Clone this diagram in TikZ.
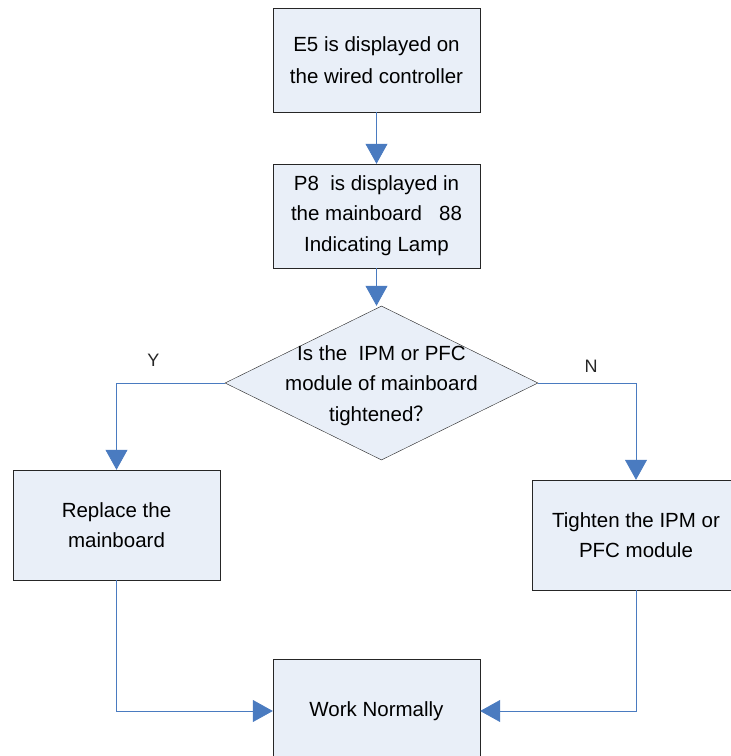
\documentclass[tikz,border=0pt]{standalone}
\usepackage{fontspec}
\setmainfont{Liberation Sans}
\newfontfamily\cjk{Noto Sans CJK SC}
\usetikzlibrary{arrows.meta, positioning, shapes.geometric}
\definecolor{boxfill}{HTML}{E9EFF8}
\definecolor{linkblue}{HTML}{4A7BC0}

\begin{document}
\begin{tikzpicture}[x=1pt, y=-1pt, font=\fontsize{20.5}{30}\selectfont,
    box/.style={draw=black!85, fill=boxfill, minimum width=207pt, minimum height=104pt, align=center, inner sep=2pt},
    decision/.style={diamond, draw=black!85, fill=boxfill, minimum width=313pt, minimum height=154pt, inner sep=0pt},
    flow/.style={draw=linkblue, line width=0.8pt, -{Triangle[width=22pt,length=20pt]}},
    yn/.style={font=\fontsize{18}{20}\selectfont, text=black!85}]
  \useasboundingbox (0,0) rectangle (731,756);
  \node[box] (shown) at (376.5,60) {E5 is displayed on\\[2pt]the wired controller};
  \node[box] (lamp) at (376.5,216) {P8\ \ is displayed in\\the mainboard\ \ \ 88\\[1pt]Indicating Lamp};
  \node[decision, label={[align=center, yshift=-3pt]center:Is the\ \ IPM or PFC\\module of mainboard\\[1pt]tightened{\cjk ？}}] (check) at (381.5,383) {};
  \node[box, minimum height=110pt] (replace) at (116.5,525) {Replace the\\mainboard};
  \node[box, minimum width=208pt, minimum height=110pt] (tighten) at (636,535) {Tighten the IPM or\\PFC module};
  \node[box] (normal) at (376.5,711) {Work Normally};
  \draw[flow] (shown) -- (lamp);
  \draw[flow] (lamp.south) -- (lamp.south |- check.north);
  \draw[flow] (check.west) -| (replace.north) node[pos=0.33, above=13pt, yn] {Y};
  \draw[flow] (check.east) -| (tighten.north) node[pos=0.27, above=7pt, yn] {N};
  \draw[flow] (replace.south) |- (normal.west);
  \draw[flow] (tighten.south) |- (normal.east);
\end{tikzpicture}
\end{document}
